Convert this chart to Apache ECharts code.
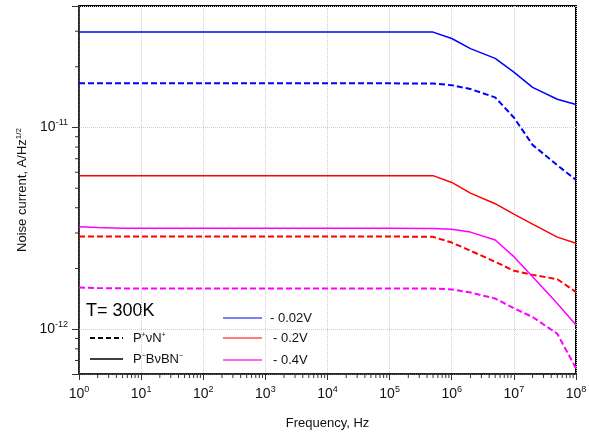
<!DOCTYPE html>
<html>
<head>
<meta charset="utf-8">
<script src="https://cdn.jsdelivr.net/npm/echarts@6/dist/echarts.min.js"></script>
<style>
  html, body { margin: 0; padding: 0; background: #fff; }
  #chart { width: 589px; height: 432px; }
</style>
</head>
<body>
<div id="chart"></div>
<script>
// Frequency points (Hz)
const freqHz = [1, 2, 5, 10, 100, 1e3, 1e4, 1e5, 5e5, 1e6, 2e6, 5e6, 1e7, 2e7, 5e7, 1e8];

// Noise current, A/Hz^1/2 — P+vN+ structure (dashed)
const pvn002 = [1.655e-11, 1.655e-11, 1.655e-11, 1.655e-11, 1.655e-11, 1.655e-11, 1.655e-11, 1.655e-11, 1.65e-11, 1.62e-11, 1.55e-11, 1.41e-11, 1.12e-11, 8.2e-12, 6.5e-12, 5.5e-12];
const pvn02  = [2.88e-12, 2.88e-12, 2.88e-12, 2.88e-12, 2.88e-12, 2.88e-12, 2.88e-12, 2.88e-12, 2.87e-12, 2.69e-12, 2.45e-12, 2.16e-12, 1.95e-12, 1.86e-12, 1.77e-12, 1.53e-12];
const pvn04  = [1.61e-12, 1.60e-12, 1.594e-12, 1.594e-12, 1.594e-12, 1.594e-12, 1.594e-12, 1.594e-12, 1.59e-12, 1.576e-12, 1.52e-12, 1.42e-12, 1.27e-12, 1.15e-12, 9.5e-13, 6.4e-13];

// Noise current, A/Hz^1/2 — P-BvBN- structure (solid)
const pbvbn002 = [2.97e-11, 2.97e-11, 2.97e-11, 2.97e-11, 2.97e-11, 2.97e-11, 2.97e-11, 2.97e-11, 2.97e-11, 2.76e-11, 2.46e-11, 2.2e-11, 1.88e-11, 1.58e-11, 1.38e-11, 1.30e-11];
const pbvbn02  = [5.77e-12, 5.77e-12, 5.77e-12, 5.77e-12, 5.77e-12, 5.77e-12, 5.77e-12, 5.77e-12, 5.77e-12, 5.34e-12, 4.73e-12, 4.19e-12, 3.72e-12, 3.32e-12, 2.86e-12, 2.67e-12];
const pbvbn04  = [3.22e-12, 3.19e-12, 3.17e-12, 3.17e-12, 3.17e-12, 3.17e-12, 3.17e-12, 3.17e-12, 3.16e-12, 3.13e-12, 3.03e-12, 2.77e-12, 2.29e-12, 1.82e-12, 1.34e-12, 1.05e-12];

// Axis ranges
const xMin = 1, xMax = 1e8;
const yMin = 6e-13, yMax = 4e-11;

// Minor tick positions (2..9 within each decade)
const xMinorTicks = [];
for (let e = 0; e < 8; e++) for (let m = 2; m <= 9; m++) xMinorTicks.push(m * Math.pow(10, e));
const yMinorTicks = [7e-13, 8e-13, 9e-13, 2e-12, 3e-12, 4e-12, 5e-12, 6e-12, 7e-12, 8e-12, 9e-12, 2e-11, 3e-11];

const BLUE = '#0000ff', RED = '#ff0000', MAGENTA = '#ff00ff';
const FONT = 'Liberation Sans, Arial, sans-serif';

function pairs(ys) { return freqHz.map((f, i) => [f, ys[i]]); }

function curve(name, ys, color, dashed) {
  return {
    name, type: 'line', data: pairs(ys), symbol: 'none', smooth: false,
    lineStyle: { color, width: dashed ? 2 : 1.5, type: dashed ? [6, 3] : 'solid' },
    z: 3
  };
}

function powLabel(v) {
  const e = Math.log10(v);
  if (Math.abs(e - Math.round(e)) > 1e-6) return '';
  return '{b|10}{sup|' + Math.round(e) + '}';
}

const labelRich = {
  b: { fontSize: 14, fontFamily: FONT, color: '#111', lineHeight: 18 },
  sup: { fontSize: 9, fontFamily: FONT, color: '#111', verticalAlign: 'top', lineHeight: 18, padding: [0, 0, 7, 0] }
};

const chart = echarts.init(document.getElementById('chart'), null, { renderer: 'canvas' });

const option = {
  animation: false,
  backgroundColor: '#fff',
  grid: {
    left: 79, right: 13, top: 6, bottom: 58, outerBoundsMode: 'none', containLabel: false,
    show: true, borderColor: '#000', borderWidth: 2, backgroundColor: 'transparent'
  },
  xAxis: {
    type: 'log', logBase: 10, min: xMin, max: xMax,
    name: 'Frequency, Hz', nameLocation: 'middle', nameGap: 43,
    nameTextStyle: { fontSize: 13, fontFamily: FONT, color: '#111' },
    axisLine: { lineStyle: { color: '#333', width: 1.5 } },
    axisTick: { show: true, inside: false, length: 6, lineStyle: { color: '#333', width: 1 } },
    axisLabel: { formatter: powLabel, rich: labelRich, margin: 11 },
    splitLine: { show: true, lineStyle: { color: '#cfcfcf', type: 'dotted', width: 1 } },
    minorTick: { show: false }
  },
  yAxis: {
    type: 'log', logBase: 10, min: yMin, max: yMax,
    name: 'Noise current, A/Hz{sup|1/2}', nameLocation: 'middle', nameGap: 48,
    nameTextStyle: {
      fontSize: 13, fontFamily: FONT, color: '#111',
      rich: { sup: { fontSize: 8, fontFamily: FONT, color: '#111', verticalAlign: 'top', padding: [0, 0, 6, 0] } }
    },
    axisLine: { lineStyle: { color: '#333', width: 1.5 } },
    axisTick: { show: true, inside: false, length: 7, lineStyle: { color: '#333', width: 1 } },
    axisLabel: { formatter: powLabel, rich: labelRich, margin: 11, showMinLabel: true, showMaxLabel: true },
    splitLine: { show: true, lineStyle: { color: '#cfcfcf', type: 'dotted', width: 1 } }
  },
  series: [
    curve('P+vN+ -0.02V', pvn002, BLUE, true),
    curve('P-BvBN- -0.02V', pbvbn002, BLUE, false),
    curve('P+vN+ -0.2V', pvn02, RED, true),
    curve('P-BvBN- -0.2V', pbvbn02, RED, false),
    curve('P+vN+ -0.4V', pvn04, MAGENTA, true),
    curve('P-BvBN- -0.4V', pbvbn04, MAGENTA, false),
    {
      // minor ticks on the frequency axis
      type: 'custom', clip: false, silent: true, z: 5,
      data: xMinorTicks.map(v => [v, yMin]),
      renderItem: (params, api) => {
        const p = api.coord([api.value(0), yMin]);
        return { type: 'line', shape: { x1: p[0], y1: p[1], x2: p[0], y2: p[1] + 4 }, style: { stroke: '#333', lineWidth: 1 } };
      }
    },
    {
      // minor ticks on the noise axis
      type: 'custom', clip: false, silent: true, z: 5,
      data: yMinorTicks.map(v => [xMin, v]),
      renderItem: (params, api) => {
        const p = api.coord([xMin, api.value(1)]);
        return { type: 'line', shape: { x1: p[0] - 4, y1: p[1], x2: p[0], y2: p[1] }, style: { stroke: '#333', lineWidth: 1 } };
      }
    }
  ],
  graphic: [
    { type: 'text', left: 86, top: 302, style: { text: 'T= 300K', fontSize: 18, fontFamily: FONT, fill: '#000' } },
    { type: 'line', shape: { x1: 90, y1: 338, x2: 123, y2: 338 }, style: { stroke: '#000', lineWidth: 2, lineDash: [5, 3] } },
    { type: 'text', x: 133, y: 338, style: {
        text: 'P{s|+}\u03bdN{s|+}', fontSize: 13, fontFamily: FONT, fill: '#111', verticalAlign: 'middle',
        rich: { s: { fontSize: 7, fontFamily: FONT, fill: '#111', verticalAlign: 'top', padding: [0, 0, 6, 0] } } } },
    { type: 'line', shape: { x1: 90, y1: 359, x2: 123, y2: 359 }, style: { stroke: '#000', lineWidth: 1.5 } },
    { type: 'text', x: 133, y: 359, style: {
        text: 'P{s|\u2212}B\u03bdBN{s|\u2212}', fontSize: 13, fontFamily: FONT, fill: '#111', verticalAlign: 'middle',
        rich: { s: { fontSize: 7, fontFamily: FONT, fill: '#111', verticalAlign: 'top', padding: [0, 0, 6, 0] } } } },
    { type: 'line', shape: { x1: 223, y1: 318, x2: 262, y2: 318 }, style: { stroke: '#4a5ae8', lineWidth: 1.5 } },
    { type: 'text', x: 270, y: 318, style: { text: '- 0.02V', fontSize: 13, fontFamily: FONT, fill: '#111', verticalAlign: 'middle' } },
    { type: 'line', shape: { x1: 223, y1: 338, x2: 262, y2: 338 }, style: { stroke: '#ff5050', lineWidth: 1.5 } },
    { type: 'text', x: 273, y: 338, style: { text: '- 0.2V', fontSize: 13, fontFamily: FONT, fill: '#111', verticalAlign: 'middle' } },
    { type: 'line', shape: { x1: 223, y1: 360, x2: 262, y2: 360 }, style: { stroke: '#ff33ee', lineWidth: 1.5 } },
    { type: 'text', x: 273, y: 360, style: { text: '- 0.4V', fontSize: 13, fontFamily: FONT, fill: '#111', verticalAlign: 'middle' } }
  ]
};

chart.setOption(option);
</script>
</body>
</html>
